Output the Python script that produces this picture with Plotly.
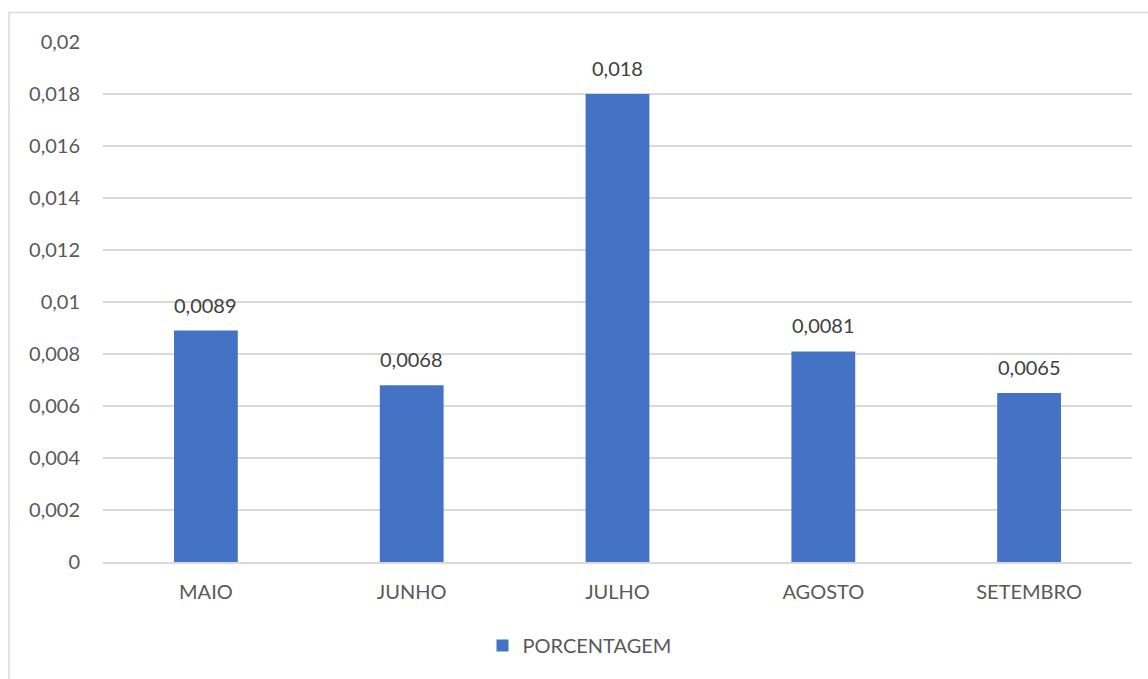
import plotly.graph_objects as go

categories = ["MAIO", "JUNHO", "JULHO", "AGOSTO", "SETEMBRO"]
values = [0.0089, 0.0068, 0.018, 0.0081, 0.0065]
value_labels = ["0,0089", "0,0068", "0,018", "0,0081", "0,0065"]
y_tickvals = [0, 0.002, 0.004, 0.006, 0.008, 0.01, 0.012, 0.014, 0.016, 0.018, 0.02]
y_ticktext = ["0", "0,002", "0,004", "0,006", "0,008", "0,01", "0,012", "0,014", "0,016", "0,018", "0,02"]
series_name = "PORCENTAGEM"

W, H = 1148, 679
L, R, T, B = 103, 16, 42, 117
pw, ph = W - L - R, H - T - B

fig = go.Figure()
fig.add_trace(go.Bar(
    x=categories, y=values, name=series_name,
    marker=dict(color="#4472C4", line=dict(width=0)),
))

annotations = [
    dict(x=c, y=v, xref="x", yref="y", text=t, showarrow=False,
         yanchor="bottom", yshift=12,
         font=dict(family="Lato", size=20, color="#404040"))
    for c, v, t in zip(categories, values, value_labels)
]

fig.update_layout(
    width=W, height=H,
    margin=dict(l=L, r=R, t=T, b=B, pad=0, autoexpand=False),
    paper_bgcolor="white", plot_bgcolor="white",
    bargap=0.69,
    font=dict(family="Lato", size=20, color="#595959"),
    showlegend=True,
    legend=dict(orientation="h", x=0.5 - 38 / pw, xanchor="center", y=(T + ph - 626) / ph, yanchor="top",
                font=dict(size=20, color="#595959"), itemwidth=30),
    xaxis=dict(showgrid=False, showline=True, linecolor="#d9d9d9", linewidth=1.5,
               ticks="", ticklabelstandoff=11, tickfont=dict(size=20, color="#595959")),
    yaxis=dict(range=[0, 0.02], tickvals=y_tickvals, ticktext=y_ticktext,
               showgrid=True, gridcolor="#d9d9d9", gridwidth=1.5, zeroline=False,
               showline=False, ticks="", ticklabelstandoff=22,
               tickfont=dict(size=20, color="#595959")),
    annotations=annotations,
    shapes=[dict(type="rect", xref="paper", yref="paper",
                 x0=(9 - L) / pw, x1=(W + 20 - L) / pw,
                 y0=-(H + 20 - T - ph) / ph, y1=(T + ph - 12.5) / ph,
                 line=dict(color="#d9d9d9", width=1.5), fillcolor="rgba(0,0,0,0)", layer="below")],
)

fig.write_html("out.html")
